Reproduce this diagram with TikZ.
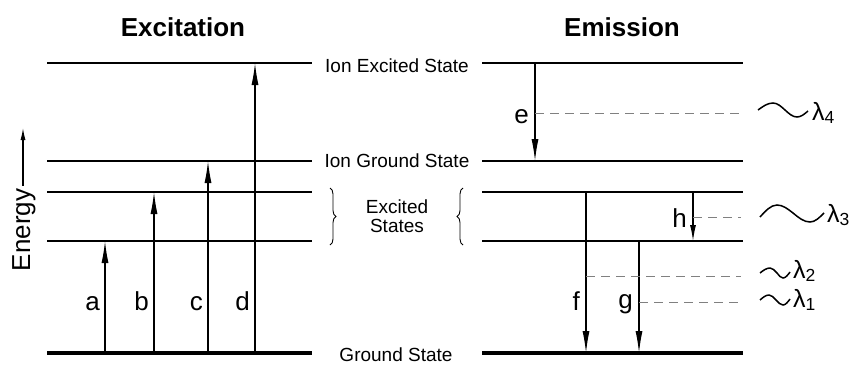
\documentclass[tikz,border=0pt]{standalone}
\usepackage{fontspec}
\setmainfont{Liberation Sans}
\usetikzlibrary{positioning, calc, arrows.meta, decorations.pathreplacing}

\begin{document}
\begin{tikzpicture}[
    x=1pt, y=-1pt,
    every node/.style={font=\fontsize{19}{19}\selectfont, inner sep=0pt},
    titre/.style={font=\fontsize{26}{28}\selectfont\bfseries},
    lvl/.style={line width=2.1pt},
    gnd/.style={line width=3.8pt},
    trans/.style={
        -{Latex[length=22pt,width=7pt]},
        line width=1.2pt
    },
    lettre/.style={font=\fontsize{26}{28}\selectfont, anchor=base east},
    photon/.style={gray, line width=0.8pt, dash pattern=on 9pt off 6pt},
    wiggle/.style={line width=1.5pt},
    lam/.style={font=\fontsize{25}{25}\selectfont, anchor=base west},
    accolade/.style={decorate, decoration={brace, amplitude=6pt}, line width=0.9pt}
]
\useasboundingbox (0,0) rectangle (858,365);

% Niveaux
\foreach \n/\y in {ie/63, ig/161, hi/192, lo/241, gs/353} {
    \coordinate (\n1) at (47,\y);  \coordinate (\n2) at (312,\y);
    \coordinate (\n3) at (482,\y); \coordinate (\n4) at (743,\y);
}
\foreach \n in {ie, ig, hi, lo} {
    \draw[lvl] (\n1) -- (\n2);
    \draw[lvl] (\n3) -- (\n4);
}
\draw[gnd] (gs1) -- (gs2);
\draw[gnd] (gs3) -- (gs4);

% Titres
\node[titre] (exc) at (183,27) {Excitation};
\node[titre] (emi) at (622,27) {Emission};

% Etats
\node (tie) at (397,66) {Ion Excited State};
\node (tig) at (397,161) {Ion Ground State};
\node[align=center] (tes) at (397,216) {Excited\\States};
\node (tgs) at (396,355) {Ground State};
\draw[accolade] (330,188) -- (330,245);
\draw[accolade] (463,245) -- (463,188);

% Energie
\node[rotate=90, font=\fontsize{26}{26}\selectfont] (nrj) at (24,230) {Energy};
\coordinate (fl) at (23,128);
\draw[-{Latex[length=12pt,width=5pt]}, line width=1.1pt] ([yshift=3pt]nrj.east -| fl) -- (fl);

% Excitation
\foreach \n/\x/\to in {a/105/lo, b/154/hi, c/208/ig, d/255/ie} {
    \coordinate (\n0) at (\x,353);
    \draw[trans] (\n0) -- (\n0 |- \to1);
    \node[lettre] (l\n) at ($(\n0)+(-5,-43)$) {\n};
}

% Emission
\foreach \n/\x/\from/\dy in {e/535/ie/60, f/586/hi/118, g/639/lo/67, h/693/hi/35} {
    \coordinate (\n0) at (\x,0);
    \node[lettre] (l\n) at ($(\n0 |- \from3)+(-6,\dy)$) {\n};
}
\draw[trans] (e0 |- ie3) -- (e0 |- ig3);
\draw[trans] (f0 |- hi3) -- (f0 |- gs3);
\draw[trans] (g0 |- lo3) -- (g0 |- gs3);
\draw[trans, -{Latex[length=16pt,width=6pt]}] (h0 |- hi3) -- (h0 |- lo3);

% Photons
\coordinate (p4) at (535,113);
\coordinate (p3) at (693,217);
\coordinate (p2) at (586,276);
\coordinate (p1) at (639,302);
\foreach \p in {p4, p3, p2, p1} {
    \draw[photon] (\p) -- ($(\p -| ie4)+(-2,0)$);
}

\draw[wiggle] (758,110) sin (773,103) cos (785,110) sin (797,117) cos (808,111);
\node[lam] (l4) at (812,120) {λ\textsubscript{4}};
\draw[wiggle] (760,217) sin (777,205) cos (793,213) sin (810,222) cos (824,213);
\node[lam] (l3) at (827,222) {λ\textsubscript{3}};
\draw[wiggle] (760,273) sin (770,268) cos (777,273) sin (783,278) cos (790,272);
\node[lam] (l2) at (793,278) {λ\textsubscript{2}};
\draw[wiggle] (760,300) sin (769,295) cos (776,300) sin (783,305) cos (790,299);
\node[lam] (l1) at (793,307) {λ\textsubscript{1}};

\end{tikzpicture}
\end{document}
